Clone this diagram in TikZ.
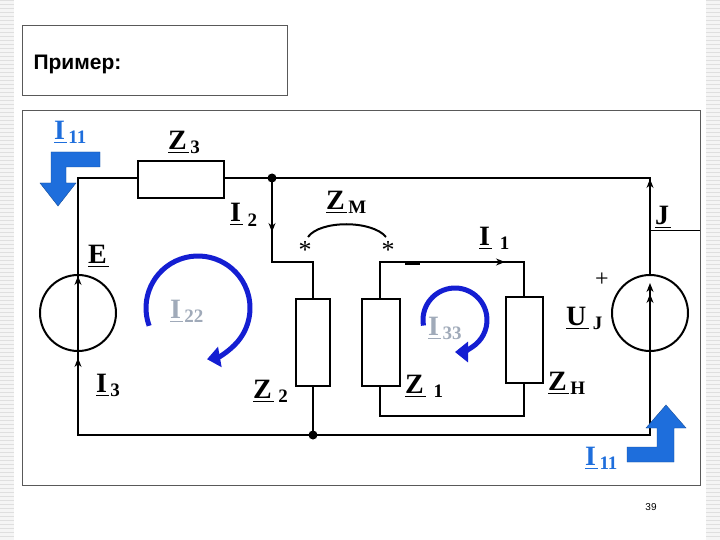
\documentclass[tikz,border=0pt]{standalone}
\usepackage{fontspec}
\setmainfont{Liberation Serif}
\newfontfamily\sansf{Liberation Sans}
\usetikzlibrary{arrows.meta}
\definecolor{bl}{RGB}{30,110,220}
\definecolor{db}{RGB}{20,30,210}
\definecolor{gr}{RGB}{160,170,185}
\tikzset{
  w/.style={line width=2pt},
  res/.style={draw,line width=2pt,fill=white},
  lab/.style={font=\bfseries\fontsize{28}{28}\selectfont,inner sep=0pt,anchor=base west},
  sub/.style={font=\bfseries\fontsize{19}{19}\selectfont,inner sep=0pt,anchor=base west},
  ul/.style={line width=1pt},
  loop/.style={db,line width=5pt,-{Triangle[length=13pt,width=20pt]}},
  barr/.style={fill=bl,draw=bl!70!black,line width=0.4pt},
  ar/.style={-{Stealth[length=9pt,width=7pt]}}
}
\newcommand{\lbl}[5]{% name, x,y, letter, subscript
  \node[lab,#5] (#1) at (#2) {#3};
  \node[sub,#5] (#1s) at ([xshift=3pt,yshift=-4pt]#1.base east) {#4};
  \draw[ul,#5] ([yshift=-3pt]#1.base west) -- ([yshift=-3pt,xshift=2pt]#1.base east);}
\begin{document}
\begin{tikzpicture}[x=1pt,y=-1pt]
\useasboundingbox (0,0) rectangle (720,540);
\fill[gray!8] (0,0) rectangle (720,540);
\foreach \y in {0,4,...,540} \draw[gray!25,line width=0.4pt] (0,\y) -- (720,\y);
\fill[white] (14,0) rectangle (706,540);
\draw[line width=0.8pt,gray!70!black] (22,25) rectangle (287,95);
\node[font=\sansf\bfseries\fontsize{21}{21}\selectfont,anchor=west] (title) at (30,64) {Пример:};
\draw[line width=0.8pt,gray!70!black] (22,110) rectangle (700,485);
\node[font=\sansf\fontsize{10}{10}\selectfont] (pg) at (651,507) {39};
% wiring
\coordinate (tl) at (78,178); \coordinate (tr) at (650,178);
\coordinate (bl) at (78,435); \coordinate (br) at (650,435);
\coordinate (n1) at (272,178); \coordinate (n2) at (313,435);
\draw[w] (tl) -- (tr) -- (br) -- (bl) -- cycle;
\node[res,minimum width=86pt,minimum height=37pt] (z3) at (181,180) {};
\draw[w] (n1) -- (272,262) -- (313,262) -- (n2);
\draw[ar,line width=1.2pt] (272,205) -- (272,232);
\node[res,minimum width=34pt,minimum height=87pt] (z2) at (313,342) {};
\fill (n1) circle (4.5); \fill (n2) circle (4.5);
% Z1 loop
\draw[w] (380,262) -- (524,262) -- (524,416) -- (380,416) -- cycle;
\draw[ar,line width=1.2pt] (470,262) -- (505,262);
\draw[line width=2pt] (405,264) -- (420,264);
\node[res,minimum width=38pt,minimum height=87pt] (z1) at (381,342) {};
\node[res,minimum width=37pt,minimum height=86pt] (zh) at (524,340) {};
% sources
\node[draw,circle,line width=2pt,minimum size=76pt,fill=white] (e) at (78,313) {};
\draw[w] (e.south) -- (e.north);
\draw[ar,line width=1.2pt] (78,300) -- (78,276);
\draw[ar,line width=1.2pt] (78,378) -- (78,358);
\node[draw,circle,line width=2pt,minimum size=76pt,fill=white] (j) at (650,313) {};
\draw[w] (j.south) -- (650,305);
\draw[ar,line width=1.2pt] (650,322) -- (650,294);
\draw[ar,line width=1.2pt] (650,304) -- (650,283);
\draw[ar,line width=1.2pt] (650,200) -- (650,179);
\draw[line width=0.5pt] (650,230) -- (700,230);
% mutual
\node[font=\fontsize{26}{26}\selectfont] (s1) at (305,250) {*};
\node[font=\fontsize{26}{26}\selectfont] (s2) at (388,250) {*};
\draw[line width=2pt] (308,237) .. controls (320,220) and (372,220) .. (386,237);
% loops
\draw[loop] (198,308) ++(160:52) arc[start angle=160,end angle=440,radius=52];
\draw[loop] (455,320) ++(170:32) arc[start angle=170,end angle=450,radius=32];
% block arrows
\fill[barr] (100,152) -- (100,167) -- (66,167) -- (66,183) -- (76,183) -- (58,206) -- (40,183) -- (51,183) -- (51,152) -- cycle;
\fill[barr] (627,462) -- (627,447) -- (657,447) -- (657,428) -- (646,428) -- (666,405) -- (686,428) -- (674,428) -- (674,462) -- cycle;
% labels
\lbl{i11a}{54,140}{I}{11}{bl}
\lbl{i11b}{585,465}{I}{11}{bl}
\lbl{z3l}{168,150}{Z}{3}{}
\lbl{zml}{326,210}{Z}{M}{}
\lbl{i2l}{230,222}{I}{\,2}{}
\lbl{i1l}{479,245}{I}{\,\,1}{}
\lbl{el}{88,263}{E}{}{}
\lbl{jl}{655,225}{J}{}{}
\lbl{ujl}{566,325}{U}{\,J}{}
\lbl{i3l}{96,392}{I}{3}{}
\lbl{z2l}{253,398}{Z}{\,2}{}
\lbl{z1l}{405,393}{Z}{\,\,1}{}
\lbl{zhl}{548,390}{Z}{H}{}
\lbl{i22}{170,318}{I}{22}{gr}
\lbl{i33}{428,335}{I}{33}{gr}
\node[font=\fontsize{24}{24}\selectfont] (plus) at (602,280) {+};
\end{tikzpicture}
\end{document}
